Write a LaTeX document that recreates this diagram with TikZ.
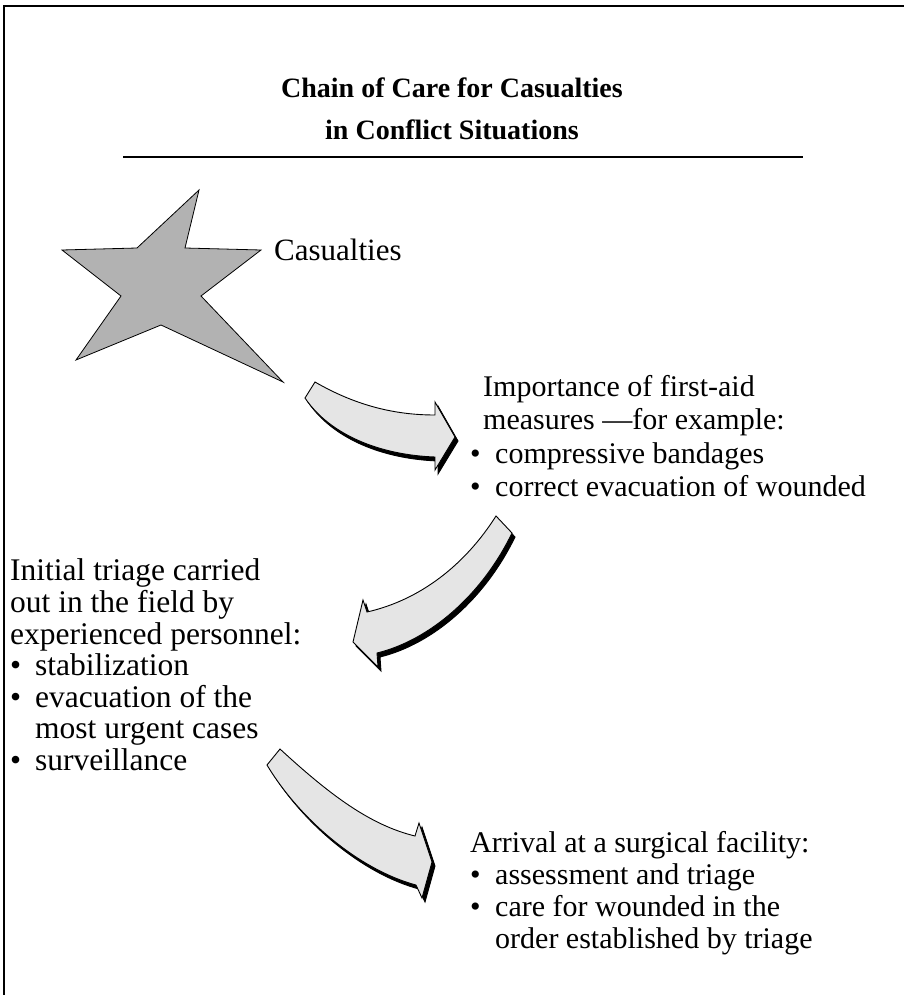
\documentclass[tikz,border=0pt]{standalone}
\usepackage{fontspec}
\setmainfont{Liberation Serif}
\usetikzlibrary{positioning}

\newcommand{\itm}{\makebox[25pt][l]{\textbullet}}
\newcommand{\cnt}{\hspace*{25pt}}

\begin{document}
\begin{tikzpicture}[x=1pt,y=-1pt,
    frameline/.style={line width=2.5pt, black},
    titletext/.style={align=center, inner sep=0pt, font=\bfseries\fontsize{28}{42}\selectfont},
    bodytext/.style={align=left, inner sep=0pt, anchor=north west, font=\fontsize{30}{33.5}\selectfont},
    widetext/.style={align=left, inner sep=0pt, anchor=north west, font=\fontsize{31.5}{31.5}\selectfont},
    lowtext/.style={align=left, inner sep=0pt, anchor=north west, font=\fontsize{30}{32}\selectfont},
    starshape/.style={fill=black!30, draw=black, line width=0.8pt, line join=miter},
    blockarrow/.style={fill=black!10, draw=black, line width=0.9pt, line join=miter},
    arrowshadow/.style={fill=black, draw=black, line width=0.9pt}]
  \useasboundingbox (0,0) rectangle (904,995);

  % frame and heading
  \draw[frameline] (4,995) -- (4,6) -- (904,6);
  \node[titletext, anchor=north] (title) at (452,68)
    {\strut Chain of Care for Casualties\\in Conflict Situations};
  \coordinate (ruleL) at (123,157);
  \coordinate (ruleR) at (803,157);
  \draw[line width=1.6pt] (ruleL) -- (ruleR);

  % the star
  \draw[starshape] (199,190) -- (185,248) -- (261,250) -- (201,296) -- (283,382)
    -- (161,325) -- (76,360) -- (121,296) -- (62,250) -- (137,248) -- cycle;
  \node[anchor=base west, inner sep=0pt, font=\fontsize{31}{36}\selectfont] (casualties) at (274,260) {Casualties};

  % first arrow: star -> first aid
  \foreach \sx/\sy/\st in {3/4/arrowshadow, 0/0/blockarrow}
    \draw[\st, shift={(\sx,\sy)}] (315,382) .. controls (360,408) and (400,415) .. (435,415)
      -- (435,402) -- (455,437) -- (435,470) -- (435,457)
      .. controls (380,455) and (330,435) .. (305,398) -- cycle;

  \node[bodytext] (firstaid) at (470,372.5)
    {\strut\hspace*{13pt}Importance of first-aid\\
     \hspace*{13pt}measures ---for example:\\
     \itm compressive bandages\\
     \itm correct evacuation of wounded};

  % second arrow: first aid -> field triage
  \foreach \sx/\sy/\st in {3/4/arrowshadow, 0/0/blockarrow}
    \draw[\st, shift={(\sx,\sy)}] (496,516) .. controls (465,565) and (420,600) .. (367,612)
      -- (363,600) -- (353,642) -- (378,667) -- (377,653)
      .. controls (430,640) and (482,595) .. (512,533) -- cycle;

  \node[widetext] (triage) at (10,558)
    {\strut Initial triage carried\\
     out in the field by\\
     experienced personnel:\\
     \itm stabilization\\
     \itm evacuation of the\\
     \cnt most urgent cases\\
     \itm surveillance};

  % third arrow: field triage -> surgical facility
  \foreach \sx/\sy/\st in {3/4/arrowshadow, 0/0/blockarrow}
    \draw[\st, shift={(\sx,\sy)}] (280,749) .. controls (330,795) and (370,825) .. (415,836)
      -- (419,823) -- (432,862) -- (422,898) -- (416,885)
      .. controls (360,870) and (300,820) .. (267,765) -- cycle;

  \node[lowtext] (surgery) at (470,829.6)
    {\strut Arrival at a surgical facility:\\
     \itm assessment and triage\\
     \itm care for wounded in the\\
     \cnt order established by triage};
\end{tikzpicture}
\end{document}
